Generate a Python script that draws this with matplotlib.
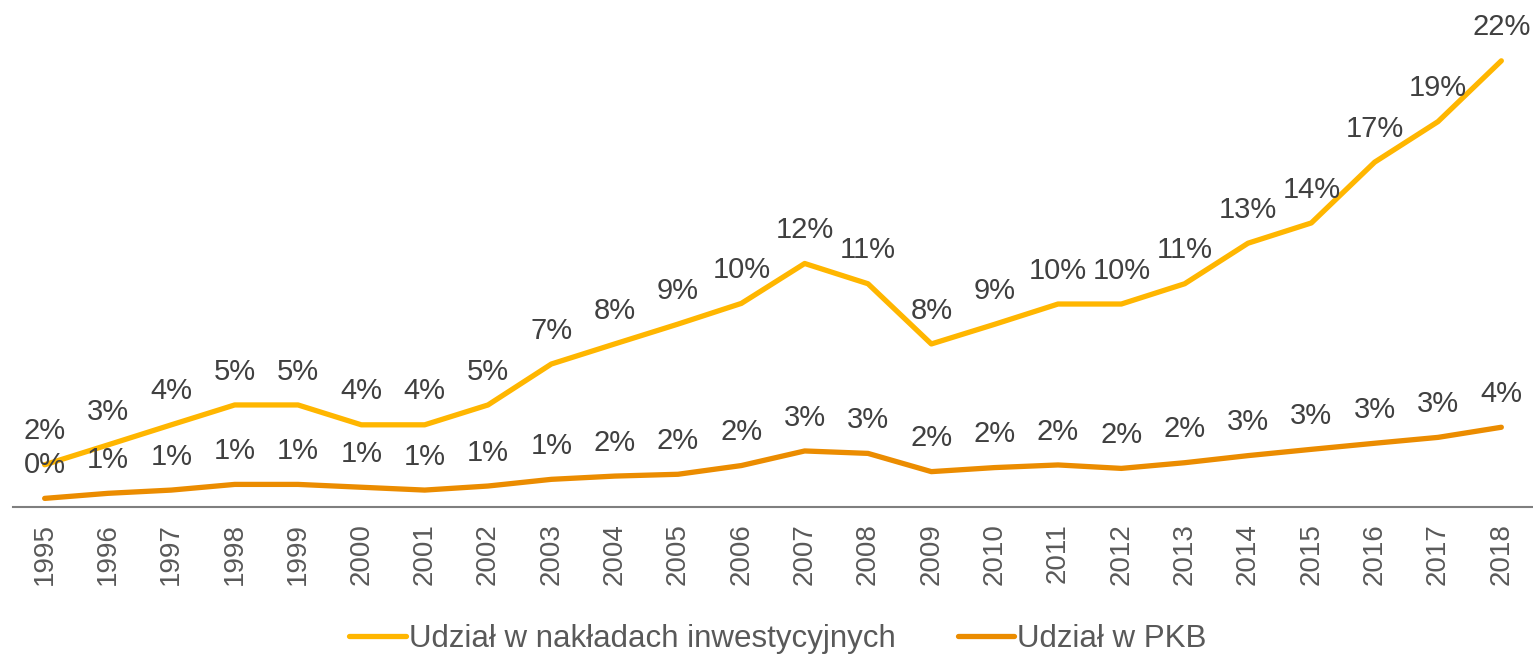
import matplotlib
matplotlib.use("Agg")
import matplotlib.pyplot as plt

years = [str(y) for y in range(1995, 2019)]
inwestycje = [2.07, 3.05, 4.04, 5.02, 5.02, 4.04, 4.04, 5.02, 7.04, 8.03, 9.01, 10.03,
              12.0, 11.0, 8.03, 9.0, 10.0, 10.0, 11.0, 13.0, 14.0, 17.0, 19.0, 22.0]
pkb = [0.41, 0.66, 0.82, 1.10, 1.10, 0.96, 0.82, 1.02, 1.35, 1.51, 1.60, 2.03,
       2.75, 2.63, 1.73, 1.93, 2.06, 1.89, 2.17, 2.52, 2.83, 3.13, 3.42, 3.92]
series_names = ["Udział w nakładach inwestycyjnych", "Udział w PKB"]
colors = ["#FFB600", "#EB8C00"]

plt.rcParams['font.family'] = ['Liberation Sans', 'DejaVu Sans']

W, H = 1533, 655
fig = plt.figure(figsize=(W / 100, H / 100), dpi=100)
axis_y = 506.7
ax = fig.add_axes([13 / W, (H - axis_y) / H, (W - 13) / W, axis_y / H])

x = list(range(len(years)))
for vals, name, col in zip([inwestycje, pkb], series_names, colors):
    ax.plot(x, vals, color=col, lw=3.8, label=name, solid_capstyle='round',
            solid_joinstyle='round', clip_on=False)
    for xi, v in zip(x, vals):
        ax.annotate(f"{int(v + 0.5)}%", (xi, v), xytext=(0, 24), textcoords='offset points',
                    ha='center', va='center', fontsize=21, color='#404040',
                    annotation_clip=False)

ax.set_xlim(-0.5, len(years) - 0.5)
ax.set_ylim(0, 25)
ax.set_xticks(x)
ax.set_xticklabels(years, rotation=90, fontsize=20, color='#595959')
ax.tick_params(axis='x', length=0, pad=12)
ax.set_yticks([])
for s in ['top', 'right', 'left']:
    ax.spines[s].set_visible(False)
ax.spines['bottom'].set_color('#7F7F7F')
ax.spines['bottom'].set_linewidth(1.5)
ax.patch.set_alpha(0)

leg = fig.legend(loc='center', bbox_to_anchor=(778 / W, 1 - 639 / H), ncol=2,
                 frameon=False, fontsize=22.5, handlelength=1.8, handletextpad=0.1,
                 columnspacing=2.0, labelcolor='#595959')

fig.savefig("out.png", dpi=100)
